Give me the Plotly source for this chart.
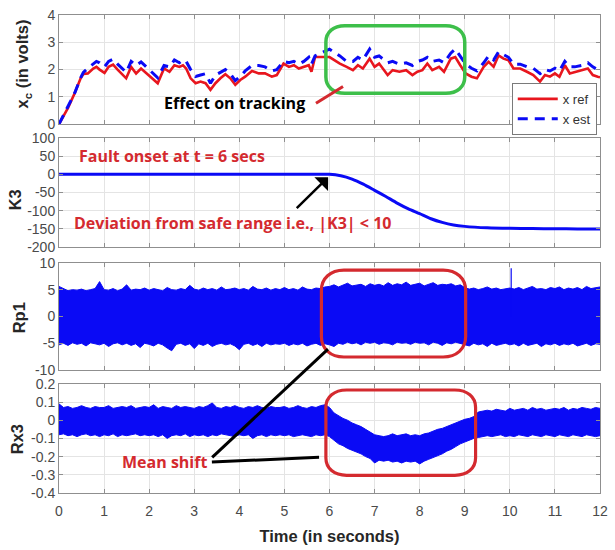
import plotly.graph_objects as go

# ---- tracking: reference vs estimated state ----
t_x = [0, 0.2, 0.35, 0.48, 0.54, 0.64, 0.76, 0.83, 0.9, 1.01, 1.1, 1.2, 1.3, 1.49, 1.6,
       1.71, 1.82, 1.93, 2.04, 2.19, 2.33, 2.45, 2.56, 2.67, 2.75, 2.82, 2.92, 3.03, 3.14,
       3.25, 3.36, 3.47, 3.58, 3.69, 3.8, 3.91, 4.02, 4.13, 4.28, 4.43, 4.57, 4.72, 4.83,
       4.98, 5.1, 5.21, 5.32, 5.43, 5.54, 5.6, 5.68, 6.0, 6.23, 6.38, 6.52, 6.63, 6.74,
       6.89, 7.0, 7.1, 7.29, 7.4, 7.55, 7.7, 7.84, 7.95, 8.06, 8.17, 8.28, 8.43, 8.54,
       8.69, 8.79, 8.9, 9.02, 9.15, 9.27, 9.42, 9.53, 9.64, 9.75, 9.86, 9.97, 10.08,
       10.23, 10.38, 10.52, 10.67, 10.78, 10.89, 11.0, 11.1, 11.22, 11.33, 11.44, 11.59,
       11.73, 11.84, 11.95, 12.0]
x_ref = [0, 0.6, 1.14, 1.68, 1.84, 1.86, 2.04, 2.1, 2.0, 1.88, 2.1, 2.18, 2.0, 1.68, 2.1,
         1.86, 2.04, 1.88, 1.74, 1.5, 2.04, 1.92, 2.16, 2.1, 2.16, 2.04, 1.68, 1.5, 1.56,
         1.5, 1.26, 1.5, 1.68, 1.83, 1.68, 1.44, 1.62, 1.74, 1.95, 1.86, 1.86, 1.74, 1.8,
         2.22, 2.1, 2.16, 2.04, 2.1, 2.16, 1.92, 2.46, 2.46, 2.22, 2.1, 1.98, 2.16, 2.04,
         2.4, 2.1, 2.22, 1.8, 1.98, 1.92, 1.98, 1.8, 1.92, 1.98, 2.22, 1.98, 2.1, 1.92,
         2.4, 2.46, 2.16, 1.86, 1.74, 1.68, 2.1, 2.28, 2.1, 2.52, 2.4, 2.34, 2.04,
         2.04, 1.92, 1.8, 1.56, 1.8, 1.74, 1.86, 1.74, 2.16, 1.86, 1.92, 1.98,
         2.04, 1.8, 1.74, 1.72]
x_est = [0, 0.65, 1.15, 1.7, 1.9, 2.05, 2.2, 2.3, 2.25, 2.1, 2.3, 2.38, 2.2, 1.9, 2.3,
         2.15, 2.28, 2.1, 1.95, 1.7, 2.15, 2.1, 2.35, 2.25, 2.35, 2.3, 2.0, 1.75, 1.8,
         1.85, 1.5, 1.8, 1.9, 2.0, 1.85, 1.6, 1.75, 1.95, 2.15, 2.15, 2.1, 1.95, 2.0,
         2.3, 2.25, 2.3, 2.2, 2.3, 2.45, 2.2, 2.5, 2.75, 2.5, 2.3, 2.3, 2.45, 2.35,
         2.75, 2.45, 2.5, 2.25, 2.3, 2.2, 2.25, 2.15, 2.3, 2.35, 2.45, 2.3, 2.35, 2.25,
         2.6, 2.75, 2.5, 2.2, 2.05, 1.95, 2.25, 2.5, 2.35, 2.65, 2.55, 2.45, 2.2,
         2.2, 2.1, 2.05, 1.85, 2.0, 1.95, 2.05, 1.95, 2.3, 2.1, 2.1, 2.15,
         2.25, 2.1, 2.0, 1.95]

# ---- gain K3 ----
t_k3 = [0, 1, 2, 3, 4, 5, 6.0, 6.25, 6.5, 6.75, 7.0, 7.25, 7.5, 7.75, 8.0, 8.25, 8.5,
        8.75, 9.0, 9.5, 10, 10.5, 11, 11.5, 12]
k3 = [0, 0, 0, 0, 0, 0, 0, -4, -13, -27, -44, -61, -79, -95, -108, -122, -132,
      -139, -143, -147, -148.5, -149, -149.5, -150, -150]

# ---- residual envelopes, sampled every 0.1 s ----
t_band = [i / 10 for i in range(121)]
rp1_upper = [5.6, 5.2, 4.8, 5.0, 4.9, 5.1, 4.8, 5.0, 5.2, 6.5,
             5.0, 4.9, 5.2, 4.8, 5.1, 5.9, 4.9, 5.1, 5.0, 5.3,
             4.9, 5.2, 5.0, 4.8, 5.4, 5.0, 4.9, 5.2, 5.0, 5.8,
             5.1, 4.9, 5.3, 5.0, 5.2, 4.9, 5.5, 5.0, 5.1, 5.3,
             5.0, 5.2, 4.9, 5.6, 5.1, 5.0, 5.3, 4.9, 5.2, 5.0,
             5.4, 5.0, 5.2, 4.9, 5.5, 5.1, 5.0, 5.3, 5.2, 5.5,
             5.6, 5.9, 5.5, 5.8, 6.2, 5.7, 5.9, 6.0, 5.6, 6.1,
             5.8, 6.0, 5.7, 6.3, 5.8, 6.1, 5.9, 6.4, 5.8, 6.0,
             6.2, 5.7, 6.0, 6.3, 5.8, 6.0, 5.9, 6.1, 5.7, 5.9,
             5.4, 5.1, 5.3, 5.0, 5.2, 5.5, 5.1, 5.3, 5.0, 5.2,
             5.3, 5.1, 5.4, 5.0, 5.3, 5.6, 5.1, 5.2, 5.0, 5.4,
             5.2, 5.5, 5.0, 5.3, 5.1, 5.4, 5.0, 5.6, 5.2, 5.3, 5.5]
rp1_lower = [-5.3, -5.0, -5.4, -4.9, -5.2, -5.0, -5.5, -4.9, -5.1, -5.3,
             -5.0, -5.6, -5.1, -4.9, -5.3, -5.0, -5.4, -5.1, -5.8, -5.0,
             -5.2, -5.5, -5.0, -5.3, -5.9, -6.4, -5.2, -5.0, -5.4, -5.1,
             -6.0, -5.1, -5.4, -5.0, -5.6, -5.2, -5.0, -5.3, -5.1, -5.5,
             -6.2, -5.2, -5.0, -5.4, -5.1, -5.6, -5.0, -5.3, -5.1, -5.2,
             -5.0, -5.4, -5.1, -5.3, -5.0, -5.5, -5.2, -5.0, -5.4, -5.1,
             -5.3, -5.6, -5.0, -5.2, -4.8, -5.1, -4.9, -5.3, -4.8, -5.0,
             -4.8, -5.2, -4.9, -5.0, -5.3, -4.8, -5.0, -4.9, -5.2, -4.8,
             -5.0, -4.9, -5.3, -4.8, -5.0, -5.4, -4.9, -5.1, -4.8, -5.0,
             -5.2, -5.5, -5.0, -5.3, -5.1, -5.6, -5.0, -5.4, -5.2, -5.0,
             -5.3, -5.1, -5.5, -5.0, -5.4, -5.2, -5.0, -5.6, -5.1, -5.3,
             -5.0, -5.4, -5.1, -5.3, -5.0, -5.5, -5.2, -5.0, -5.4, -5.1, -5.2]
rp1_spike_t = [10.03, 10.03]
rp1_spike_v = [0.0, 9.0]

rx3_upper = [0.09, 0.07, 0.075, 0.065, 0.07, 0.08, 0.07, 0.065, 0.075, 0.07,
             0.07, 0.08, 0.065, 0.07, 0.075, 0.07, 0.08, 0.065, 0.07, 0.075,
             0.07, 0.085, 0.065, 0.075, 0.07, 0.065, 0.08, 0.07, 0.075, 0.07,
             0.065, 0.075, 0.07, 0.08, 0.095, 0.07, 0.065, 0.075, 0.07, 0.08,
             0.07, 0.065, 0.075, 0.07, 0.08, 0.07, 0.065, 0.075, 0.07, 0.07,
             0.075, 0.065, 0.07, 0.08, 0.07, 0.065, 0.075, 0.07, 0.08, 0.085,
             0.07, 0.04, 0.025, 0.01, 0.0, -0.015, -0.025, -0.035, -0.05, -0.065,
             -0.08, -0.085, -0.09, -0.085, -0.075, -0.085, -0.08, -0.075, -0.085, -0.08,
             -0.085, -0.075, -0.07, -0.06, -0.05, -0.045, -0.035, -0.025, -0.015, -0.005,
             0.005, 0.01, 0.02, 0.045, 0.05, 0.055, 0.05, 0.06, 0.055, 0.05,
             0.065, 0.055, 0.06, 0.065, 0.055, 0.07, 0.06, 0.065, 0.055, 0.06,
             0.065, 0.06, 0.07, 0.055, 0.065, 0.06, 0.07, 0.065, 0.06, 0.07, 0.065]
rx3_lower = [-0.08, -0.075, -0.085, -0.08, -0.09, -0.08, -0.075, -0.085, -0.08, -0.09,
             -0.08, -0.085, -0.075, -0.09, -0.08, -0.085, -0.08, -0.075, -0.085, -0.08,
             -0.085, -0.08, -0.09, -0.08, -0.1, -0.085, -0.08, -0.085, -0.075, -0.09,
             -0.08, -0.085, -0.08, -0.09, -0.08, -0.085, -0.075, -0.08, -0.085, -0.09,
             -0.08, -0.085, -0.08, -0.1, -0.085, -0.08, -0.09, -0.08, -0.085, -0.08,
             -0.085, -0.08, -0.09, -0.085, -0.08, -0.085, -0.09, -0.08, -0.085, -0.08,
             -0.09, -0.11, -0.13, -0.14, -0.155, -0.165, -0.175, -0.185, -0.2, -0.21,
             -0.235, -0.22, -0.225, -0.22, -0.23, -0.225, -0.235, -0.225, -0.23, -0.225,
             -0.24, -0.225, -0.215, -0.205, -0.195, -0.185, -0.17, -0.16, -0.145, -0.13,
             -0.12, -0.11, -0.1, -0.095, -0.09, -0.085, -0.09, -0.085, -0.08, -0.09,
             -0.085, -0.09, -0.08, -0.085, -0.09, -0.08, -0.085, -0.09, -0.08, -0.085,
             -0.09, -0.08, -0.085, -0.09, -0.08, -0.085, -0.09, -0.08, -0.085, -0.09, -0.085]

# ---- axis ticks ----
x_ticks = list(range(13))
y1_ticks = [0, 1, 2, 3, 4]
y2_ticks = [100, 50, 0, -50, -100, -150, -200]
y3_ticks = [10, 5, 0, -5, -10]
y4_ticks = [0.2, 0.1, 0, -0.1, -0.2, -0.3, -0.4]


def tick_text(vals):
    return [("%g" % v) for v in vals]


BLUE = "#0a0af5"
RED = "#e8161e"
TXT_RED = "#d42a2f"
GREEN = "#3dbf4a"
TICK_FONT = dict(family="Liberation Sans, Arial", size=14, color="#4a4a4a")

fig = go.Figure()

fig.add_trace(go.Scatter(x=t_x, y=x_ref, mode="lines", name="x ref",
                         line=dict(color=RED, width=2.6), xaxis="x", yaxis="y"))
fig.add_trace(go.Scatter(x=t_x, y=x_est, mode="lines", name="x est",
                         line=dict(color=BLUE, width=3, dash="10px,7px"),
                         xaxis="x", yaxis="y"))

fig.add_trace(go.Scatter(x=t_k3, y=k3, mode="lines", line=dict(color=BLUE, width=3,
                         shape="spline", smoothing=0.6),
                         showlegend=False, xaxis="x2", yaxis="y2"))

fig.add_trace(go.Scatter(x=t_band, y=rp1_upper, mode="lines", line=dict(color=BLUE, width=1),
                         showlegend=False, xaxis="x3", yaxis="y3"))
fig.add_trace(go.Scatter(x=t_band, y=rp1_lower, mode="lines", line=dict(color=BLUE, width=1),
                         fill="tonexty", fillcolor=BLUE, showlegend=False,
                         xaxis="x3", yaxis="y3"))
fig.add_trace(go.Scatter(x=rp1_spike_t, y=rp1_spike_v, mode="lines",
                         line=dict(color=BLUE, width=1.2), showlegend=False,
                         xaxis="x3", yaxis="y3"))

fig.add_trace(go.Scatter(x=t_band, y=rx3_upper, mode="lines", line=dict(color=BLUE, width=1),
                         showlegend=False, xaxis="x4", yaxis="y4"))
fig.add_trace(go.Scatter(x=t_band, y=rx3_lower, mode="lines", line=dict(color=BLUE, width=1),
                         fill="tonexty", fillcolor=BLUE, showlegend=False,
                         xaxis="x4", yaxis="y4"))

domains = [[0.7716, 1.0], [0.5144, 0.7428], [0.2572, 0.4815], [0.0, 0.2284]]
y_ranges = [[0, 4], [-200, 100], [-10, 10], [-0.4, 0.2]]
y_ticks = [y1_ticks, y2_ticks, y3_ticks, y4_ticks]

axis_common = dict(showgrid=True, gridcolor="#e4e4e4", gridwidth=1, zeroline=False,
                   showline=True, linecolor="#8f8f8f", linewidth=1, mirror="ticks",
                   ticks="inside", ticklen=4, tickcolor="#8f8f8f", tickfont=TICK_FONT)

layout = dict(
    width=615, height=550,
    margin=dict(l=59, r=11, t=7, b=57),
    paper_bgcolor="white", plot_bgcolor="white",
    showlegend=True,
    legend=dict(x=0.994, y=0.858, xanchor="right", yanchor="top",
                bgcolor="white", bordercolor="#7a7a7a", borderwidth=1,
                font=dict(family="Liberation Sans, Arial", size=13, color="#333333"),
                traceorder="normal", tracegroupgap=0, itemwidth=40),
)

for i in range(4):
    sfx = "" if i == 0 else str(i + 1)
    ysfx = "y" if i == 0 else "y" + str(i + 1)
    xsfx = "x" if i == 0 else "x" + str(i + 1)
    layout["xaxis" + sfx] = dict(axis_common, range=[0, 12], tickvals=x_ticks,
                                 ticktext=tick_text(x_ticks), anchor=ysfx,
                                 domain=[0, 1], showticklabels=(i == 3))
    layout["yaxis" + sfx] = dict(axis_common, range=y_ranges[i], tickvals=y_ticks[i],
                                 ticktext=tick_text(y_ticks[i]), anchor=xsfx,
                                 domain=domains[i])

layout["xaxis4"]["ticklabelstandoff"] = 5
layout["xaxis4"]["title"] = dict(text="<b>Time (in seconds)</b>", standoff=12,
                                 font=dict(family="Liberation Sans, Arial", size=16.5,
                                           color="#262626"))
fig.update_layout(layout)

# y-axis titles
TITLE_FONT = dict(family="Liberation Sans, Arial", size=16.5, color="#262626")
for txt, xp, yp in [("<b>x<sub>c</sub> (in volts)</b>", -0.066, 0.897),
                    ("<b>K3</b>", -0.0807, 0.613),
                    ("<b>Rp1</b>", -0.0734, 0.366),
                    ("<b>Rx3</b>", -0.0771, 0.113)]:
    fig.add_annotation(text=txt, x=xp, y=yp, xref="paper", yref="paper",
                       textangle=-90, showarrow=False, font=TITLE_FONT,
                       xanchor="center", yanchor="middle")


def rounded_path(x0, x1, y0, y1, rx, ry, k=0.6):
    return (f"M {x0 + rx},{y1} L {x1 - rx},{y1} "
            f"C {x1 - rx + k * rx},{y1} {x1},{y1 - ry + k * ry} {x1},{y1 - ry} "
            f"L {x1},{y0 + ry} "
            f"C {x1},{y0 + ry - k * ry} {x1 - rx + k * rx},{y0} {x1 - rx},{y0} "
            f"L {x0 + rx},{y0} "
            f"C {x0 + rx - k * rx},{y0} {x0},{y0 + ry - k * ry} {x0},{y0 + ry} "
            f"L {x0},{y1 - ry} "
            f"C {x0},{y1 - ry + k * ry} {x0 + rx - k * rx},{y1} {x0 + rx},{y1} Z")


# highlight outlines
fig.add_shape(type="path", xref="x", yref="y",
              path=rounded_path(5.92, 9.0, 1.13, 3.61, 0.42, 0.6),
              line=dict(color=GREEN, width=3.5))
fig.add_shape(type="path", xref="x3", yref="y3",
              path=rounded_path(5.82, 9.02, -7.56, 8.64, 0.5, 3.8),
              line=dict(color=TXT_RED, width=3.2))
fig.add_shape(type="path", xref="x4", yref="y4",
              path=rounded_path(5.92, 9.24, -0.303, 0.166, 0.46, 0.095),
              line=dict(color=TXT_RED, width=3.2))

# connectors
fig.add_shape(type="line", xref="x", yref="y", x0=5.70, y0=0.77, x1=6.30, y1=1.38,
              line=dict(color=TXT_RED, width=3))
fig.add_shape(type="line", xref="paper", yref="paper", x0=0.2831, y0=0.0747,
              x1=0.4972, y1=0.3010, line=dict(color="black", width=3))
fig.add_shape(type="line", xref="paper", yref="paper", x0=0.2826, y0=0.0648,
              x1=0.4807, y1=0.0747, line=dict(color="black", width=3))

NOTE_FONT = "Open Sans, Lato, sans-serif"
fig.add_annotation(text="<b>Effect on tracking</b>", x=3.9, y=0.77, xref="x", yref="y",
                   showarrow=False, font=dict(family=NOTE_FONT, size=16, color="black"))
fig.add_annotation(text="<b>Fault onset at t = 6 secs</b>", x=2.51, y=51, xref="x2",
                   yref="y2", showarrow=False,
                   font=dict(family=NOTE_FONT, size=16, color=TXT_RED))
fig.add_annotation(text="<b>Deviation from safe range i.e., |K3| &lt; 10</b>", x=3.85,
                   y=-135, xref="x2", yref="y2", showarrow=False,
                   font=dict(family=NOTE_FONT, size=16, color=TXT_RED))
fig.add_annotation(text="", x=5.97, y=-8, xref="x2", yref="y2", ax=5.24, ay=-97,
                   axref="x2", ayref="y2", showarrow=True, arrowhead=1, arrowsize=1.3,
                   arrowwidth=2.5, arrowcolor="black")
fig.add_annotation(text="<b>Mean shift</b>", x=2.35, y=-0.231, xref="x4", yref="y4",
                   showarrow=False, font=dict(family=NOTE_FONT, size=16, color=TXT_RED))

fig.write_html("out.html")
